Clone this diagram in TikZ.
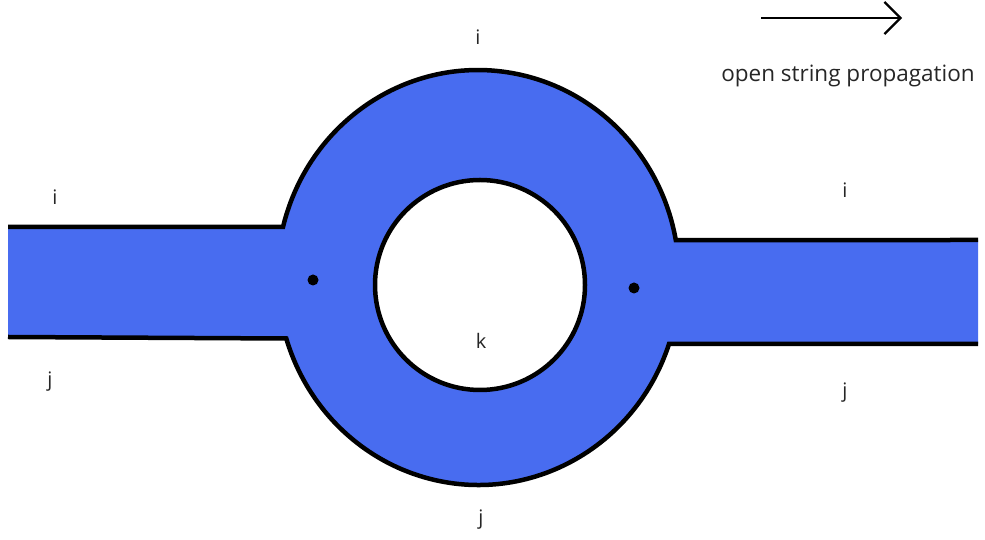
\documentclass[tikz,border=0pt]{standalone}
\usepackage{fontspec}
\setmainfont{Open Sans}
\usetikzlibrary{arrows.meta}
\definecolor{stringblue}{RGB}{72,108,240}
\begin{document}
\begin{tikzpicture}[x=1pt,y=1pt,
  edge/.style={line width=4.5pt,black},
  lbl/.style={font=\fontsize{20}{24}\selectfont,text=black!85},
  vertexdot/.style={circle,fill=black,inner sep=0pt,minimum size=11pt}]
\useasboundingbox (0,0) rectangle (985,540);
% ribbon fill
\fill[stringblue] (8,313) -- (283,313)
  arc[start angle=166,end angle=10.3,x radius=201,y radius=207]
  -- (978,300) -- (978,196) -- (669,196)
  arc[start angle=-18.6,end angle=-163,x radius=201,y radius=207]
  -- (8,203) -- cycle;
% outlines
\draw[edge] (8,313) -- (283,313)
  arc[start angle=166,end angle=10.3,x radius=201,y radius=207]
  -- (978,300);
\draw[edge] (978,196) -- (669,196)
  arc[start angle=-18.6,end angle=-163,x radius=201,y radius=207]
  -- (8,203);
% hole
\draw[edge,fill=white] (480,255) circle[radius=105];
% vertices
\node[vertexdot] (v1) at (313,260) {};
\node[vertexdot] (v2) at (634,252) {};
% labels
\node[lbl] (itop) at (478,503) {i};
\node[lbl] (ileft) at (55,343) {i};
\node[lbl] (jleft) at (50,158) {j};
\node[lbl] (iright) at (845,350) {i};
\node[lbl] (jright) at (845,147) {j};
\node[lbl] (jbot) at (481,20) {j};
\node[lbl] (k) at (481,199) {k};
% propagation arrow
\coordinate (a1) at (761,522);
\coordinate (a2) at (902,522);
\draw[line width=2.2pt,-{Straight Barb[length=16pt,width=32pt,line width=2.2pt]}] (a1) -- (a2);
\node[lbl,font=\fontsize{22.5}{27}\selectfont] (prop) at (848,464) {open string propagation};
\end{tikzpicture}
\end{document}
